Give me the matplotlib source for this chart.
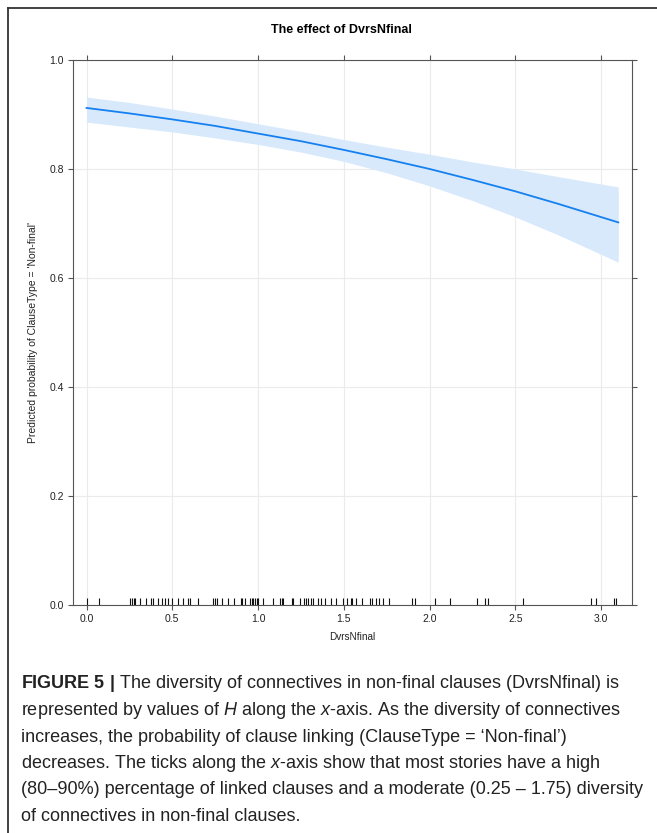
import matplotlib

matplotlib.use("Agg")
import matplotlib.pyplot as plt
from matplotlib.lines import Line2D

plt.rcParams["font.family"] = ["Liberation Sans", "DejaVu Sans"]
plt.rcParams["mathtext.fontset"] = "custom"
plt.rcParams["mathtext.rm"] = "Liberation Sans"
plt.rcParams["mathtext.it"] = "Liberation Sans:italic"
plt.rcParams["mathtext.bf"] = "Liberation Sans:bold"

# fitted effect and its confidence band
dvrs_x = [0.0, 0.25, 0.5, 0.75, 1.0, 1.25, 1.5, 1.75, 2.0, 2.25, 2.5, 2.75, 3.1]
prob_fit = [0.912, 0.902, 0.891, 0.879, 0.865, 0.851, 0.835, 0.818, 0.800, 0.780, 0.759, 0.736, 0.702]
prob_upper = [0.932, 0.922, 0.910, 0.897, 0.883, 0.869, 0.854, 0.840, 0.827, 0.813, 0.800, 0.786, 0.767]
prob_lower = [0.886, 0.877, 0.868, 0.857, 0.845, 0.831, 0.814, 0.793, 0.769, 0.742, 0.712, 0.679, 0.629]

# observed DvrsNfinal values (rug)
rug_x = [
    0.0, 0.07, 0.256, 0.265, 0.275, 0.281, 0.31, 0.345, 0.374, 0.386,
    0.417, 0.442, 0.46, 0.475, 0.5, 0.534, 0.565, 0.59, 0.602, 0.649,
    0.74, 0.75, 0.763, 0.792, 0.824, 0.857, 0.9, 0.909, 0.921, 0.954,
    0.964, 0.973, 0.983, 0.993, 1.0, 1.026, 1.086, 1.129, 1.139, 1.148,
    1.197, 1.205, 1.242, 1.267, 1.281, 1.292, 1.306, 1.32, 1.351, 1.364,
    1.393, 1.423, 1.452, 1.495, 1.52, 1.539, 1.549, 1.568, 1.607, 1.65,
    1.666, 1.685, 1.705, 1.728, 1.763, 1.897, 1.917, 2.031, 2.119, 2.274,
    2.323, 2.341, 2.543, 2.938, 2.971, 3.076, 3.088,
]

x_ticks = [0.0, 0.5, 1.0, 1.5, 2.0, 2.5, 3.0]
y_ticks = [0.0, 0.2, 0.4, 0.6, 0.8, 1.0]

caption_lines = [
    r"$\mathbf{FIGURE\ 5\ |}$ The diversity of connectives in non-final clauses (DvrsNfinal) is",
    r"represented by values of $\mathit{H}$ along the $\mathit{x}$-axis. As the diversity of connectives",
    "increases, the probability of clause linking (ClauseType = \u2018Non-final\u2019)",
    r"decreases. The ticks along the $\mathit{x}$-axis show that most stories have a high",
    "(80\u201390%) percentage of linked clauses and a moderate (0.25 \u2013 1.75) diversity",
    "of connectives in non-final clauses.",
]

fig = plt.figure(figsize=(6.57, 8.33), dpi=100)
ax = fig.add_axes([0.1116, 0.2737, 0.8504, 0.6543])

ax.fill_between(dvrs_x, prob_lower, prob_upper, color="#d8e9fc", linewidth=0)
ax.plot(dvrs_x, prob_fit, color="#1580f0", linewidth=1.3)
ax.vlines(rug_x, 0, 0.0128, color="#111111", linewidth=0.8)

ax.set_xlim(-0.077, 3.18)
ax.set_ylim(0, 1)
ax.set_xticks(x_ticks)
ax.set_yticks(y_ticks)
ax.set_xticklabels([f"{v:.1f}" for v in x_ticks])
ax.set_yticklabels([f"{v:.1f}" for v in y_ticks])
ax.grid(True, color="#ebebeb", linewidth=0.8)
ax.set_axisbelow(True)
ax.tick_params(
    direction="out", length=3.8, width=0.8, color="#555555",
    labelsize=7.5, labelcolor="#222222", pad=3,
    top=True, right=True, labeltop=False, labelright=False,
)
for spine in ax.spines.values():
    spine.set_color("#555555")
    spine.set_linewidth(0.8)

ax.set_xlabel("DvrsNfinal", fontsize=7.2, color="#222222")
ax.xaxis.set_label_coords(0.5, -0.05)
ax.set_ylabel("Predicted probability of ClauseType = 'Non-final'", fontsize=7.5, color="#222222")
ax.yaxis.set_label_coords(-0.0632, 0.5)

fig.text(341.7 / 657, 1 - 30 / 833, "The effect of DvrsNfinal", ha="center", va="center",
         fontsize=9, fontweight="bold")

# frame around the figure panel
fig.add_artist(Line2D([8 / 657, 8 / 657], [0, 1 - 8 / 833], color="#333333", linewidth=1.3))
fig.add_artist(Line2D([8 / 657, 1], [1 - 8 / 833, 1 - 8 / 833], color="#333333", linewidth=1.3))

for i, line in enumerate(caption_lines):
    fig.text(21 / 657, 1 - (684 + 26.5 * i) / 833, line, ha="left", va="center",
             fontsize=13, color="#222222")

fig.savefig("out.png", dpi=100)
